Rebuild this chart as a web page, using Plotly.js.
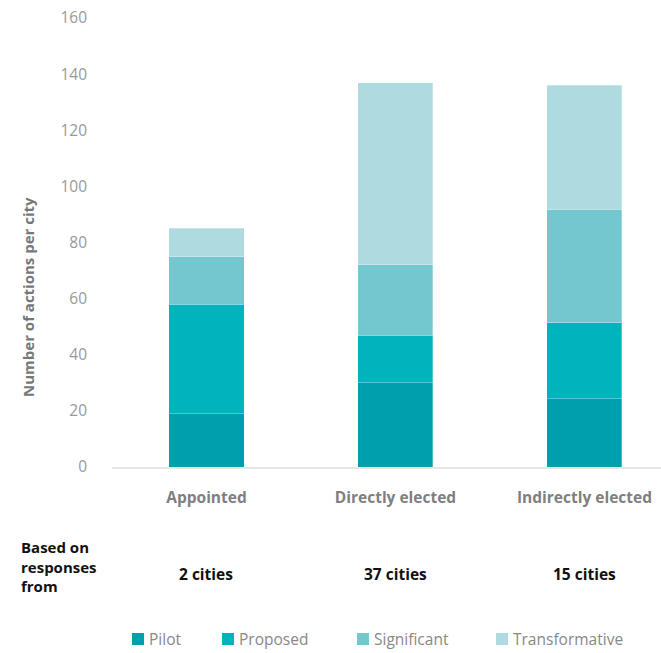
<!DOCTYPE html>
<html>
<head>
<meta charset="utf-8">
<script src="https://cdn.plot.ly/plotly-3.0.1.min.js"></script>
<style>html,body{margin:0;padding:0;background:#fff;}#chart{width:661px;height:653px;}</style>
</head>
<body>
<div id="chart"></div>
<script>
const categories = ["Appointed", "Directly elected", "Indirectly elected"];
const cityCounts = ["2 cities", "37 cities", "15 cities"];
const seriesNames = ["Pilot", "Proposed", "Significant", "Transformative"];
const pilot = [19, 30, 24.3];
const proposed = [39, 17, 27.1];
const significant = [17, 25, 40.4];
const transformative = [10, 65, 44.2];
const yTicks = [0, 20, 40, 60, 80, 100, 120, 140, 160];
const colors = ["#009fad", "#00b3bd", "#74c7cf", "#addbe0"];

const values = [pilot, proposed, significant, transformative];
const FONT = "Open Sans, Noto Sans, sans-serif";

// plot area geometry (for paper-coordinate conversion of the legend row)
const W = 661, H = 653, L = 112, R = 0, T = 18, B = 186;
const pw = W - L - R, ph = H - T - B;
const px2x = p => (p - L) / pw;
const py2y = p => (H - B - p) / ph;

const traces = values.map((v, i) => ({
  type: "bar",
  name: seriesNames[i],
  x: categories,
  y: v,
  width: 0.397,
  marker: {color: colors[i], line: {width: 0.5, color: "rgba(255,255,255,0.6)"}},
  hoverinfo: "y+name",
  showlegend: false
}));

const annotations = categories.map((c, i) => ({
  xref: "x", yref: "paper", x: c, y: py2y(574),
  text: "<b>" + cityCounts[i] + "</b>", showarrow: false,
  font: {family: FONT, size: 15.5, color: "#111"}, xanchor: "center", yanchor: "middle"
}));
annotations.push({
  xref: "paper", yref: "paper", x: px2x(19), y: py2y(566),
  text: "<b>Based on<br>responses<br>from</b>", showarrow: false, align: "left",
  font: {family: FONT, size: 15, color: "#111"}, xanchor: "left", yanchor: "middle"
});
annotations.push({
  xref: "paper", yref: "paper", x: px2x(28), y: py2y(297),
  text: "<b>Number of actions per city</b>", showarrow: false, textangle: -90,
  font: {family: FONT, size: 15, color: "#777"}, xanchor: "center", yanchor: "middle"
});

// custom legend row
const legendX = [132, 222, 357, 496];
const legendY = 639;
const shapes = [];
seriesNames.forEach((n, i) => {
  shapes.push({
    type: "rect", xref: "paper", yref: "paper",
    x0: px2x(legendX[i]), x1: px2x(legendX[i] + 12),
    y0: py2y(legendY + 6), y1: py2y(legendY - 6),
    fillcolor: colors[i], line: {width: 0}
  });
  annotations.push({
    xref: "paper", yref: "paper", x: px2x(legendX[i] + 15), y: py2y(legendY),
    text: n, showarrow: false, xanchor: "left", yanchor: "middle",
    font: {family: FONT, size: 15.5, color: "#888"}
  });
});

const layout = {
  width: W, height: H,
  margin: {l: L, r: R, t: T, b: B},
  paper_bgcolor: "#fff", plot_bgcolor: "#fff",
  barmode: "stack",
  showlegend: false,
  xaxis: {
    type: "category", range: [-0.5, 2.405],
    tickvals: categories, ticktext: categories.map(c => "<b>" + c + "</b>"),
    tickfont: {family: FONT, size: 15.5, color: "#7f7f7f"},
    showline: true, linecolor: "#e6e6e6", linewidth: 2,
    showgrid: false, ticks: "", ticklabelstandoff: 15, fixedrange: true
  },
  yaxis: {
    range: [0, 160], tickvals: yTicks, ticktext: yTicks.map(String),
    tickfont: {family: FONT, size: 15.5, color: "#999"},
    showgrid: false, zeroline: false, showline: false, ticks: "",
    ticklabelstandoff: 24, fixedrange: true
  },
  shapes: shapes,
  annotations: annotations
};

Plotly.newPlot("chart", traces, layout, {displayModeBar: false, staticPlot: true});
</script>
</body>
</html>
